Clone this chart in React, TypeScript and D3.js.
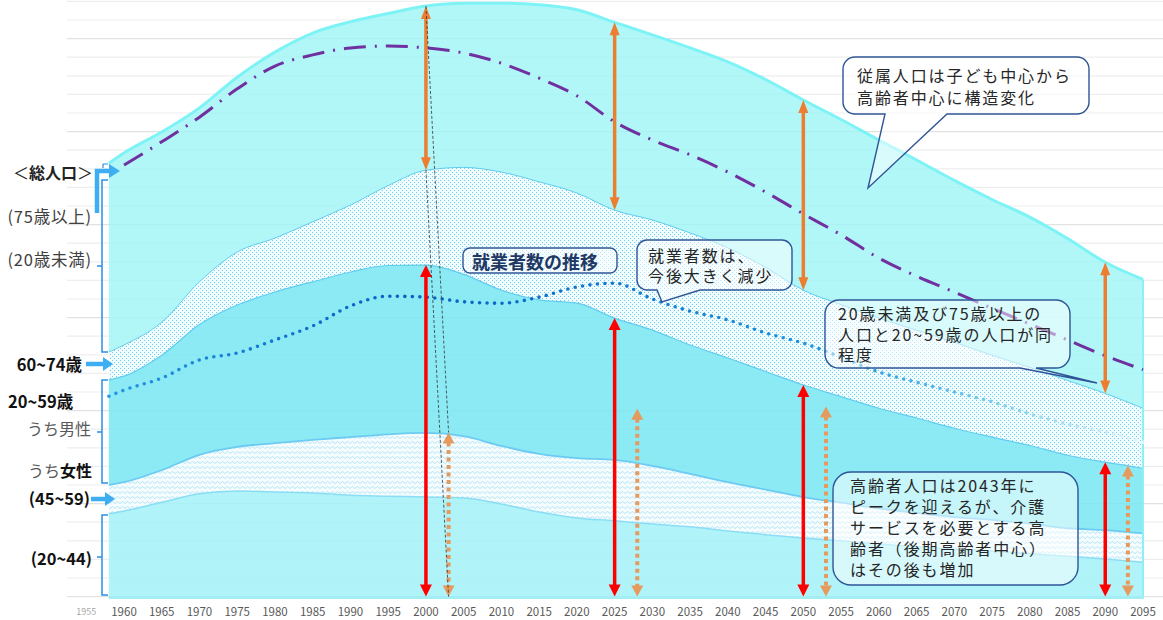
import * as d3 from 'd3';

// 年 (5年刻み、左端は1958)
const years = [1958, 1960, 1965, 1970, 1975, 1980, 1985, 1990, 1995, 2000, 2005, 2010, 2015, 2020, 2025, 2030, 2035, 2040, 2045, 2050, 2055, 2060, 2065, 2070, 2075, 2080, 2085, 2090, 2095];

// 人口 (百万人)
const women2044 = [17.8, 18.4, 20.3, 22.1, 22.7, 22.5, 22.3, 21.8, 21.6, 21.4, 21.2, 19.9, 18.2, 16.9, 16.3, 15.6, 15.0, 14.1, 13.3, 12.6, 12.0, 11.3, 10.7, 10.2, 9.8, 9.2, 8.7, 8.1, 7.4];
const women4559 = [6.2, 6.2, 6.9, 8.4, 9.5, 10.5, 11.4, 12.5, 13.3, 13.8, 13.3, 12.5, 12.5, 12.9, 13.1, 12.5, 11.4, 10.5, 9.7, 8.8, 8.2, 7.7, 7.3, 6.9, 6.7, 6.5, 6.0, 6.2, 6.2];
const men2059 = [22.6, 22.8, 24.7, 28.0, 30.5, 32.5, 34.0, 35.5, 36.3, 36.1, 34.8, 33.5, 33.1, 33.3, 30.5, 29.2, 27.7, 26.7, 25.4, 24.1, 22.8, 21.5, 20.4, 19.1, 17.8, 16.8, 15.7, 14.6, 14.0];
const age6074 = [6.0, 6.7, 7.1, 9.2, 11.4, 11.6, 12.9, 14.4, 17.2, 20.4, 23.0, 25.4, 25.4, 23.7, 23.2, 23.7, 24.1, 23.7, 22.4, 20.4, 19.8, 19.4, 18.9, 18.5, 17.6, 16.8, 16.1, 14.8, 12.9];
// 20歳未満 + 75歳以上
const dependents = [40.6, 41.3, 40.9, 37.4, 37.6, 40.0, 40.6, 39.4, 37.0, 35.3, 35.3, 36.3, 38.1, 39.4, 40.4, 39.8, 39.8, 40.0, 40.4, 40.9, 39.8, 38.3, 36.6, 34.8, 33.5, 32.3, 30.5, 28.2, 27.7];

// 就業者数
const employed = [43.1, 44.4, 47.0, 50.9, 52.4, 55.2, 58.2, 62.5, 64.6, 64.4, 63.4, 63.1, 64.4, 66.6, 67.4, 64.0, 61.4, 59.5, 56.7, 54.5, 51.5, 48.3, 46.1, 44.0, 41.9, 39.3, 37.1, 35.4, 33.2];

// 一点鎖線 (1960年から)
const dashYears = years.slice(1);
const dashValues = [92.8, 97.8, 103.1, 109.2, 114.1, 116.5, 118.0, 118.4, 118.0, 116.9, 114.7, 111.5, 107.7, 102.1, 98.2, 95.0, 91.3, 87.0, 82.3, 77.8, 72.8, 68.9, 65.5, 62.0, 58.6, 55.2, 51.8, 48.8];

const arrowYears = [2000, 2025, 2050, 2090];
const arrowShift = 3;
const tickYears = d3.range(1955, 2096, 5);
const gridValues = d3.range(0, 129, 4);

const FONT = "'Noto Sans CJK JP', 'Noto Sans', sans-serif";

const x = d3.scaleLinear().domain([1960, 2095]).range([124, 1143]);
const y = d3.scaleLinear().domain([0, 128]).range([596.6, 1.4]);

function Arrow({ x0, top, bot, color, w, hw, hl, dash }: any) {
  return (
    <g>
      <line x1={x0} x2={x0} y1={top + hl - 1} y2={bot - hl + 1} stroke={color} strokeWidth={w} strokeDasharray={dash} />
      <path d={`M${x0},${top} L${x0 - hw},${top + hl} L${x0 + hw},${top + hl} Z`} fill={color} />
      <path d={`M${x0},${bot} L${x0 - hw},${bot - hl} L${x0 + hw},${bot - hl} Z`} fill={color} />
    </g>
  );
}

function bubble(x0: number, y0: number, w: number, h: number, r: number, tail?: any) {
  const x1 = x0 + w, y1 = y0 + h;
  let d = `M${x0 + r},${y0} H${x1 - r} A${r},${r} 0 0 1 ${x1},${y0 + r} V${y1 - r} A${r},${r} 0 0 1 ${x1 - r},${y1}`;
  if (tail) d += ` H${tail.right} L${tail.tipX},${tail.tipY} L${tail.left},${y1}`;
  d += ` H${x0 + r} A${r},${r} 0 0 1 ${x0},${y1 - r} V${y0 + r} A${r},${r} 0 0 1 ${x0 + r},${y0} Z`;
  return d;
}

function Lines({ x0, y0, step, lines }: any) {
  return (
    <text fontFamily={FONT} fontSize={16} fill="#262626" letterSpacing={1.9} dominantBaseline="central">
      {lines.map((t: string, i: number) => (
        <tspan key={i} x={x0} y={y0 + i * step}>{t}</tspan>
      ))}
    </text>
  );
}

function Brace({ xb, y1, y2, ym }: any) {
  return (
    <path d={`M${xb + 6},${y1} H${xb} V${y2} H${xb + 6} M${xb},${ym} H${xb - 5}`} fill="none" stroke="#2E8FE3" strokeWidth={1.5} />
  );
}

export default function App() {
  const rows = years.map((year, i) => ({
    year, a: women2044[i], b: women4559[i], c: men2059[i], d: age6074[i], e: dependents[i],
  }));
  const series = d3.stack<any>().keys(['a', 'b', 'c', 'd', 'e'])(rows);

  const area = d3.area<any>()
    .x(d => x(d.data.year))
    .y0(d => y(d[0]))
    .y1(d => y(d[1]))
    .curve(d3.curveMonotoneX);
  const top = d3.line<any>()
    .x(d => x(d.data.year))
    .y(d => y(d[1]))
    .curve(d3.curveMonotoneX);
  const line = d3.line<[number, number]>()
    .x(d => x(d[0]))
    .y(d => y(d[1]))
    .curve(d3.curveMonotoneX);

  const fills = ['#A2F1F7', 'url(#zigzag)', '#78E6F2', 'url(#dots)', '#9FF5F6'];
  const opac = [0.85, 1, 0.85, 1, 0.8];
  const edges = ['#8ADDF5', '#6CCBF2', '#5FCDF0', '#5FCDF0', '#7EF3F6'];
  const edgeW = [1.5, 1.8, 1.2, 1, 3];

  const xEnd = x(years[years.length - 1]);
  const xStart = x(years[0]);
  const bottom = y(0);

  const at = (yr: number) => years.indexOf(yr);

  return (
    <div style={{ position: 'absolute', left: 0, top: 0, background: '#fff' }}>
      <svg width={1163} height={620} style={{ display: 'block' }}>
        <defs>
          <pattern id="dots" width={4} height={4} patternUnits="userSpaceOnUse">
            <rect width={4} height={4} fill="#F1FCFE" />
            <rect x={0} y={0} width={1} height={1} fill="#6CCBEF" />
            <rect x={2} y={2} width={1} height={1} fill="#6CCBEF" />
          </pattern>
          <pattern id="zigzag" width={5} height={5} patternUnits="userSpaceOnUse">
            <rect width={5} height={5} fill="#F4FCFE" />
            <path d="M0,3.5 L2.5,1.5 L5,3.5" fill="none" stroke="#A6DDF4" strokeWidth={0.8} />
          </pattern>
          <linearGradient id="empGrad" gradientUnits="userSpaceOnUse" x1={xStart} x2={xEnd} y1={0} y2={0}>
            <stop offset="0" stopColor="#2496E6" />
            <stop offset="0.28" stopColor="#0A5FC0" />
            <stop offset="0.5" stopColor="#1478D0" />
            <stop offset="0.72" stopColor="#239BE2" />
            <stop offset="0.87" stopColor="#86D0EF" />
            <stop offset="1" stopColor="#E2F7FB" />
          </linearGradient>
        </defs>

        <rect width={1163} height={620} fill="#fff" />

        {gridValues.map(v => (
          <line key={v} x1={67} x2={1163} y1={y(v)} y2={y(v)} stroke={v % 20 === 0 ? '#E2E2E2' : '#EEEEEE'} strokeWidth={1.2} />
        ))}

        {series.map((s, i) => (
          <path key={s.key} d={area(s) || ''} fill={fills[i]} fillOpacity={opac[i]} />
        ))}
        {series.map((s, i) => (
          <path key={'e' + s.key} d={top(s) || ''} fill="none" stroke={edges[i]} strokeWidth={edgeW[i]} />
        ))}
        <line x1={xEnd} x2={xEnd} y1={y(series[4][series[4].length - 1][1])} y2={bottom} stroke="#8DF0F5" strokeWidth={2} />
        <line x1={xStart} x2={xEnd + 1} y1={bottom + 1} y2={bottom + 1} stroke="#A3EEF5" strokeWidth={3} />

        <path d={line(dashYears.map((yr, i) => [yr, dashValues[i]])) || ''} fill="none" stroke="#7030A0" strokeWidth={3} strokeDasharray="22 9 2 9" />
        <path d={line(years.map((yr, i) => [yr, employed[i]])) || ''} fill="none" stroke="url(#empGrad)" strokeWidth={3.6} strokeLinecap="round" strokeDasharray="0 7.5" />

        {arrowYears.map(yr => {
          const s = series[4][at(yr)];
          const c = series[2][at(yr)];
          const dep = s[1] - s[0];
          return (
            <g key={yr}>
              <Arrow x0={x(yr)} top={y(s[1])} bot={y(s[0])} color="#ED7D31" w={3.5} hw={5} hl={13} />
              <Arrow x0={x(yr)} top={y(c[1])} bot={bottom} color="#FF0000" w={3.5} hw={6} hl={12} />
              <Arrow x0={x(yr + arrowShift)} top={y(dep)} bot={bottom} color="#E59A5E" w={4} hw={6} hl={11} dash="4 3.5" />
            </g>
          );
        })}
        {(() => {
          const s = series[4][at(arrowYears[0])];
          const dep = s[1] - s[0];
          const x1 = x(arrowYears[0]), x2 = x(arrowYears[0] + arrowShift);
          return (
            <g stroke="#333" strokeWidth={0.8} strokeDasharray="3 2">
              <line x1={x1} y1={y(s[1])} x2={x2} y2={y(dep)} />
              <line x1={x1} y1={y(s[0])} x2={x2} y2={bottom} />
            </g>
          );
        })()}

        {/* 左側ラベル */}
        <g fontFamily={FONT} dominantBaseline="central">
          <text x={93} y={172} fontSize={16} textAnchor="end" fill="#222">
            <tspan>＜</tspan><tspan fontWeight="bold">総人口</tspan><tspan>＞</tspan>
          </text>
          <text x={92} y={216} fontSize={16.5} textAnchor="end" fill="#404040" letterSpacing={0.8}>(75歳以上)</text>
          <text x={92} y={259} fontSize={16.5} textAnchor="end" fill="#404040" letterSpacing={0.8}>(20歳未満)</text>
          <text x={82} y={364} fontSize={16.5} fontWeight="bold" textAnchor="end" fill="#111">60~74歳</text>
          <text x={8} y={401} fontSize={16.5} fontWeight="bold" fill="#111">20~59歳</text>
          <text x={91} y={428} fontSize={16} textAnchor="end" fill="#595959">うち男性</text>
          <text x={92} y={470} fontSize={16} textAnchor="end" fill="#595959">
            <tspan>うち</tspan><tspan fontWeight="bold" fill="#111">女性</tspan>
          </text>
          <text x={90} y={498} fontSize={16.5} fontWeight="bold" textAnchor="end" fill="#111">(45~59)</text>
          <text x={92} y={558} fontSize={16.5} fontWeight="bold" textAnchor="end" fill="#111">(20~44)</text>
        </g>
        <Brace xb={102} y1={180} y2={352} ym={266} />
        <Brace xb={102} y1={380} y2={483} ym={432} />
        <Brace xb={102} y1={515} y2={595} ym={557} />
        <path d="M103,164 H108 M103,164 V168" fill="none" stroke="#2E8FE3" strokeWidth={1.2} />
        <g fill="none" stroke="#3DAEF2" strokeWidth={4.5}>
          <path d="M97,213 V171 H110" />
          <path d="M86,364 H104" />
          <path d="M91,499 H106" />
        </g>
        <g fill="#3DAEF2">
          <path d="M120,171 L109,164 L109,178 Z" />
          <path d="M113,364 L103,357 L103,371 Z" />
          <path d="M115,499 L105,492 L105,506 Z" />
        </g>

        {/* 吹き出し */}
        <g fill="#fff" fillOpacity={0.5} stroke="#2F5597" strokeWidth={1.4}>
          <path d={bubble(843, 57, 246, 57, 12, { left: 885, right: 947, tipX: 868, tipY: 188 })} />
          <path d={bubble(463, 248, 154, 25, 7)} />
          <path d={bubble(637, 240, 155, 50, 10, { left: 657, right: 700, tipX: 662, tipY: 302 })} />
          <path d={bubble(825, 300, 245, 68, 14, { left: 1020, right: 1036, tipX: 1097, tipY: 383 })} />
          <path d={bubble(833, 472, 245, 113, 18)} />
        </g>
        <Lines x0={857} y0={75} step={22} lines={['従属人口は子ども中心から', '高齢者中心に構造変化']} />
        <text x={472} y={261} fontFamily={FONT} fontSize={18} fontWeight="bold" fill="#1F3864" dominantBaseline="central">就業者数の推移</text>
        <Lines x0={648} y0={255} step={20} lines={['就業者数は、', '今後大きく減少']} />
        <Lines x0={838} y0={313} step={20.5} lines={['20歳未満及び75歳以上の', '人口と20~59歳の人口が同', '程度']} />
        <Lines x0={850} y0={485} step={21} lines={['高齢者人口は2043年に', 'ピークを迎えるが、介護', 'サービスを必要とする高', '齢者（後期高齢者中心）', 'はその後も増加']} />

        {/* 横軸 */}
        <g fontFamily={FONT} textAnchor="middle" dominantBaseline="central">
          {tickYears.map(yr => (
            <text key={yr} x={x(yr)} y={611} fontSize={yr < years[0] ? 9 : 11.5} fill={yr < years[0] ? '#A6A6A6' : '#595959'}>{yr}</text>
          ))}
        </g>
      </svg>
    </div>
  );
}
